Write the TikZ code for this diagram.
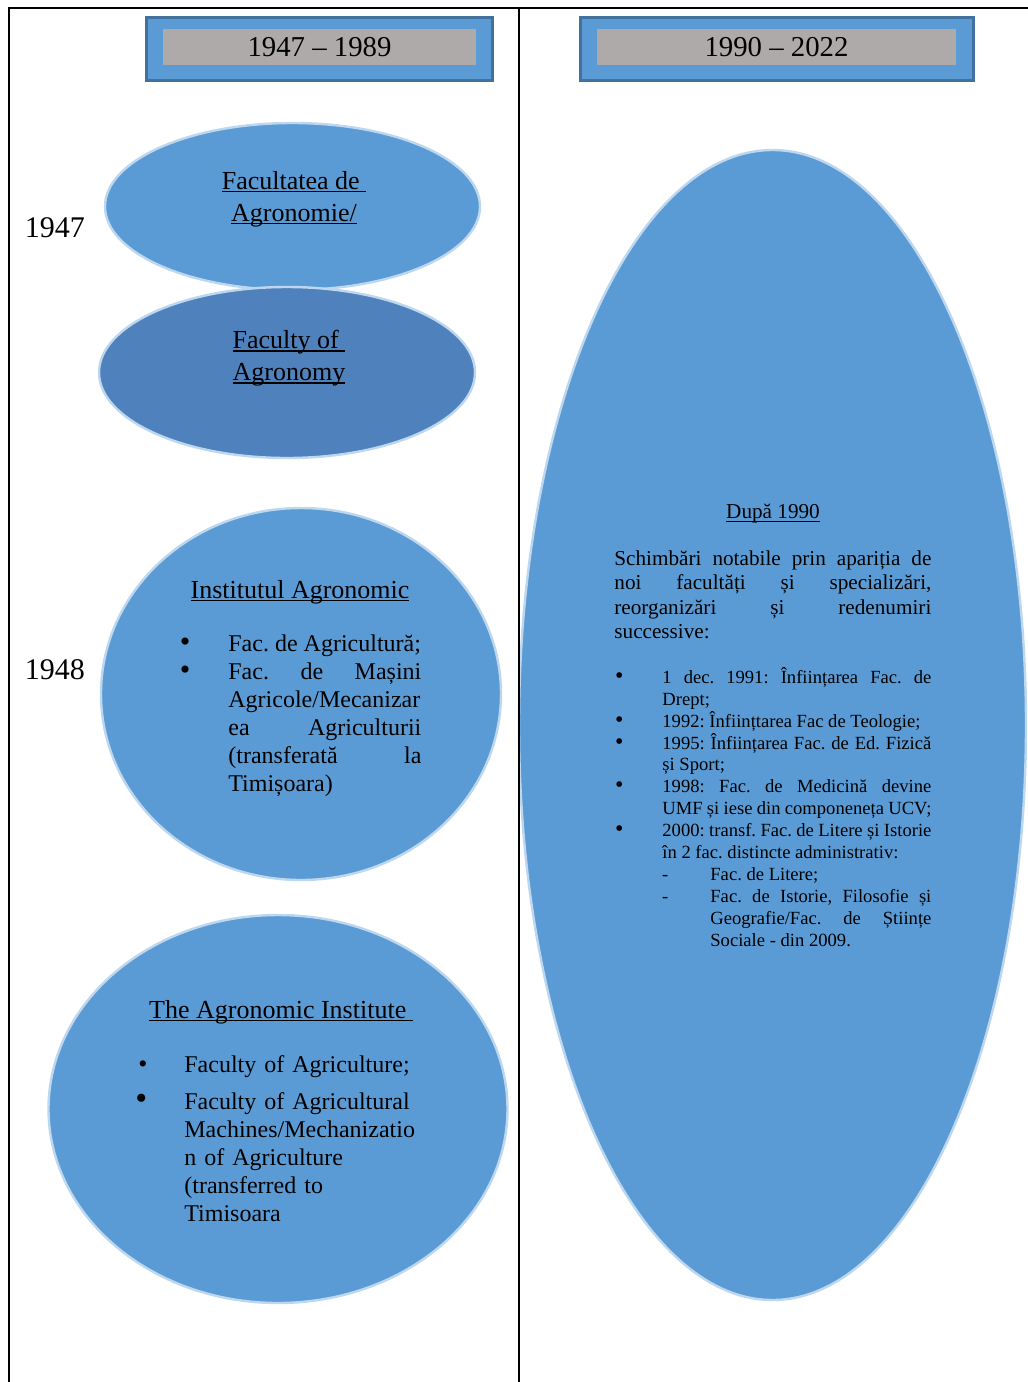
\documentclass[tikz,border=0pt]{standalone}
\usepackage{fontspec}
\setmainfont{Liberation Serif}
\usepackage{enumitem}
\usetikzlibrary{shapes.geometric}
\definecolor{ovalblue}{HTML}{5B9BD5}
\definecolor{ovaldark}{HTML}{4F81BD}
\definecolor{ovalrim}{HTML}{BDD7EE}
\definecolor{hdrrim}{HTML}{41719C}
\definecolor{hdrgray}{HTML}{AEAAAA}
\newcommand\ulin[1]{\setbox0\hbox{#1}\rlap{\rule[-1.6pt]{\wd0}{0.6pt}}\box0}
\tolerance=9999 \hyphenpenalty=10000
\frenchspacing

\begin{document}
\begin{tikzpicture}[x=0.5pt,y=-0.5pt, every node/.style={inner sep=0pt},
    oval/.style={ellipse, fill=ovalblue, draw=ovalrim, line width=1.2pt},
    hdr/.style={rectangle, fill=ovalblue, draw=hdrrim, line width=1.5pt, minimum height=31.5pt},
    hdrin/.style={rectangle, fill=hdrgray, minimum height=18pt, font=\fontsize{14.4}{16}\selectfont},
    year/.style={font=\fontsize{15}{17}\selectfont},
    ttl/.style={font=\fontsize{13}{16}\selectfont, align=center}]
    \useasboundingbox (0,0) rectangle (1028,1382);

    \node[hdr, minimum width=173pt] (h-old) at (319,48.5) {};
    \node[hdrin, minimum width=156.5pt] (h-old-txt) at (319.5,47) {1947 – 1989};
    \node[hdr, minimum width=196.5pt] (h-new) at (776.5,48.5) {};
    \node[hdrin, minimum width=179.5pt] (h-new-txt) at (776.5,47) {1990 – 2022};

    \node[oval, minimum width=187.5pt, minimum height=83.5pt] (fa) at (292.5,206.5) {};
    \node[oval, fill=ovaldark, minimum width=188pt, minimum height=85.5pt] (fy) at (287,372.5) {};
    \node[oval, minimum width=200pt, minimum height=186pt] (ia) at (301,694) {};
    \node[oval, minimum width=229.5pt, minimum height=194pt] (ai) at (278,1109) {};
    \node[oval, minimum width=253.5pt, minimum height=575pt] (ro) at (772.5,725) {};

    \node[year] (y47) at (55,228) {1947};
    \node[year] (y48) at (55,670) {1948};

    \node[ttl] (fa-txt) at (294,199) {\ulin{Facultatea de\ }\\\ulin{Agronomie/}};
    \node[ttl] (fy-txt) at (289,358) {\ulin{Faculty of\ }\\\ulin{Agronomy}};
    \node[ttl] (ia-txt) at (300,592) {\ulin{Institutul Agronomic}};
    \node[ttl] (ai-txt) at (281,1012) {\ulin{The Agronomic Institute\ }};

    \node[anchor=north west, text width=119.5pt, align=justify, font=\fontsize{12}{14}\selectfont] (ia-list) at (182,623) {%
      \begin{itemize}[label={\fontsize{15}{14}\selectfont\textbullet}, leftmargin=23pt, labelwidth=4pt, labelsep=19pt, labelindent=0pt, topsep=0pt, partopsep=0pt, itemsep=0pt, parsep=0pt]
      \item Fac. de Agricultură;
      \item Fac. de Mașini\linebreak Agricole/Mecanizar\linebreak ea Agriculturii\linebreak (transferată la\linebreak Timișoara)
      \end{itemize}};

    \node[anchor=north west, text width=140.5pt, align=left, font=\fontsize{12}{14}\selectfont] (ai-list) at (139,1044) {%
      \begin{itemize}[label={\fontsize{13}{14}\selectfont\textbullet}, leftmargin=22.5pt, labelwidth=4pt, labelsep=18.5pt, labelindent=0pt, topsep=0pt, partopsep=0pt, itemsep=4.5pt, parsep=0pt]
      \item Faculty of Agriculture;
      \item[{\fontsize{17}{14}\selectfont\textbullet}] Faculty of Agricultural\newline Machines/Mechanizatio\newline n of Agriculture\newline (transferred to\newline Timisoara
      \end{itemize}};

    \node[font=\fontsize{10.6}{12.25}\selectfont] (ro-txt) at (773,514) {\ulin{După 1990}};
    \node[anchor=north west, text width=158.5pt, align=justify, font=\fontsize{10.6}{12.25}\selectfont] (ro-par) at (614,550) {%
      Schimbări notabile prin apariția de\linebreak noi facultăți și specializări,\linebreak reorganizări și redenumiri\linebreak successive:};
    \node[anchor=north west, text width=158.5pt, align=justify, font=\fontsize{9.3}{10.95}\selectfont] (ro-list) at (614,661) {%
      \begin{itemize}[label={\fontsize{12}{10}\selectfont\textbullet}, leftmargin=24pt, labelwidth=4.5pt, labelsep=19.5pt, labelindent=0pt, topsep=0pt, partopsep=0pt, itemsep=0pt, parsep=0pt]
      \item 1 dec. 1991: Înființarea Fac. de\linebreak Drept;
      \item 1992: Înființtarea Fac de Teologie;
      \item 1995: Înființarea Fac. de Ed. Fizică\linebreak și Sport;
      \item 1998: Fac. de Medicină devine\linebreak UMF și iese din componeneța UCV;
      \item 2000: transf. Fac. de Litere și Istorie\linebreak în 2 fac. distincte administrativ:
        \begin{itemize}[label=-, leftmargin=24pt, labelwidth=3pt, labelsep=21pt, labelindent=0pt, topsep=0pt, partopsep=0pt, itemsep=0pt, parsep=0pt]
        \item Fac. de Litere;
        \item Fac. de Istorie, Filosofie și\linebreak Geografie/Fac. de Științe\linebreak Sociale - din 2009.
        \end{itemize}
      \end{itemize}};

    \draw[line width=1.1pt] (8,8) -- (1028,8);
    \draw[line width=1pt] (9,8) -- (9,1382);
    \draw[line width=1pt] (519,8) -- (519,1382);
\end{tikzpicture}
\end{document}
